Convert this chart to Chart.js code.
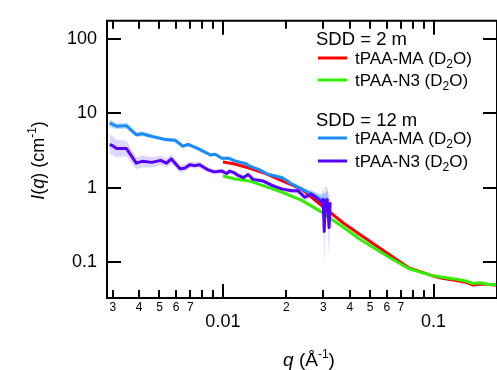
<!DOCTYPE html>
<html><head><meta charset="utf-8">
<style>html,body{margin:0;padding:0;background:#fff;}#wrap{width:497px;height:370px;position:relative;}</style>
<script src="https://cdn.jsdelivr.net/npm/chart.js@4.4.1/dist/chart.umd.min.js"></script>
</head><body><div id="wrap"><canvas id="c" width="497" height="370"></canvas></div>
<script>
// ---- data ----
const qMA12 = [0.0029, 0.00297, 0.00313, 0.00348, 0.00388, 0.00413, 0.00460, 0.00534, 0.00593, 0.00646, 0.00682, 0.00758, 0.00871, 0.00918, 0.00989, 0.01066, 0.01124, 0.01161, 0.01291, 0.01333, 0.01483, 0.01648, 0.01913, 0.02128, 0.02366, 0.02633, 0.02808, 0.02930, 0.03027, 0.03090, 0.03160];
const iMA12 = [7.4, 7.21, 6.73, 6.86, 5.17, 5.33, 4.92, 4.45, 4.36, 3.63, 3.83, 3.39, 2.77, 2.83, 2.50, 2.50, 2.34, 2.27, 2.11, 1.97, 1.76, 1.51, 1.37, 1.12, 0.962, 0.826, 0.748, 0.684, 0.62, 0.684, 0.72];
const errMA12 = [1.12, 1.12, 1.1, 1.1, 1.08, 1.08, 1.07, 1.06, 1.06, 1.06, 1.06, 1.05, 1.05, 1.05, 1.05, 1.05, 1.05, 1.05, 1.05, 1.05, 1.05, 1.05, 1.06, 1.06, 1.07, 1.1, 1.15, 1.2, 1.35, 1.3, 1.3];

const qN312 = [0.0029, 0.00297, 0.00313, 0.00348, 0.00388, 0.00413, 0.00460, 0.00506, 0.00540, 0.00569, 0.00626, 0.00661, 0.00697, 0.00735, 0.00775, 0.00844, 0.00908, 0.00989, 0.01043, 0.01076, 0.01135, 0.01161, 0.01249, 0.01318, 0.01390, 0.01547, 0.01720, 0.01913, 0.02128, 0.02270, 0.02445, 0.02633, 0.02808, 0.02930, 0.02990, 0.03027, 0.03060, 0.03125, 0.03192, 0.03230];
const iN312 = [3.8, 3.74, 3.39, 3.39, 2.15, 2.27, 2.20, 2.34, 2.15, 2.45, 1.80, 1.85, 2.05, 1.99, 2.05, 1.76, 1.64, 1.68, 1.56, 1.68, 1.59, 1.51, 1.37, 1.51, 1.30, 1.24, 1.07, 0.962, 0.917, 0.917, 0.748, 0.826, 0.711, 0.643, 0.70, 0.26, 0.684, 0.684, 0.293, 0.643];
const errN312 = [1.4, 1.35, 1.3, 1.28, 1.2, 1.2, 1.18, 1.15, 1.15, 1.15, 1.12, 1.12, 1.1, 1.1, 1.1, 1.08, 1.08, 1.08, 1.07, 1.07, 1.07, 1.07, 1.07, 1.07, 1.07, 1.07, 1.07, 1.07, 1.08, 1.1, 1.1, 1.12, 1.15, 1.2, 1.5, 3, 1.5, 1.5, 2.5, 1.5];

const qMA2 = [0.0100, 0.01124, 0.01333, 0.01597, 0.01913, 0.02366, 0.0293, 0.03256, 0.03743, 0.04485, 0.06175, 0.07645, 0.0976, 0.110, 0.130, 0.142, 0.154, 0.166, 0.179, 0.2];
const iMA2 = [2.22, 2.11, 1.85, 1.55, 1.24, 0.962, 0.582, 0.46, 0.334, 0.235, 0.126, 0.084, 0.0665, 0.061, 0.0565, 0.054, 0.0493, 0.051, 0.0505, 0.049];

const qN32 = [0.0100, 0.01124, 0.01333, 0.01597, 0.01913, 0.02366, 0.0293, 0.03256, 0.03743, 0.04485, 0.06175, 0.07645, 0.0976, 0.110, 0.130, 0.142, 0.154, 0.166, 0.179, 0.2];
const iN32 = [1.44, 1.33, 1.24, 1.04, 0.871, 0.678, 0.476, 0.385, 0.293, 0.202, 0.116, 0.0817, 0.0667, 0.063, 0.0586, 0.056, 0.0519, 0.053, 0.0508, 0.05];

const xTickValues = [0.003, 0.004, 0.005, 0.006, 0.007, 0.008, 0.009, 0.01, 0.02, 0.03, 0.04, 0.05, 0.06, 0.07, 0.08, 0.09, 0.1];
const xTickLabels = ['3', '4', '5', '6', '7', '', '', '0.01', '2', '3', '4', '5', '6', '7', '', '', '0.1'];
const xMajorValues = [0.01, 0.1];
const yTickValues = [0.1, 1, 10, 100];
const yTickLabels = ['0.1', '1', '10', '100'];

const legendHeaders = ['SDD = 2 m', 'SDD = 12 m'];
const seriesNames = ['tPAA-MA (D\u2082O)', 'tPAA-N3 (D\u2082O)'];

const COL_RED = '#ff0000', COL_GREEN = '#33ee00', COL_BLUE = '#1a8cff', COL_PURPLE = '#5500ff';
const FONT = "'Liberation Sans', Arial, Helvetica, sans-serif";

// ---- build datasets ----
const pts = (q, v) => q.map((x, i) => ({x, y: v[i]}));
const up = (q, v, e) => q.map((x, i) => ({x, y: v[i] * e[i]}));
const lo = (q, v, e) => q.map((x, i) => ({x, y: v[i] / e[i]}));
const lineDs = (label, data, color, order) => ({label, data, borderColor: color, backgroundColor: color, borderWidth: 3, pointRadius: 0, showLine: true, fill: false, order, tension: 0});
const bandDs = (data, color, fill, order) => ({label: '', data, borderWidth: 0, borderColor: 'rgba(0,0,0,0)', backgroundColor: color, pointRadius: 0, showLine: true, fill, order});

const datasets = [
  bandDs(up(qMA12, iMA12, errMA12), 'rgba(30,140,255,0.28)', '+1', 10),
  bandDs(lo(qMA12, iMA12, errMA12), 'rgba(30,140,255,0.28)', false, 11),
  bandDs(up(qN312, iN312, errN312), 'rgba(110,70,255,0.22)', '+1', 8),
  bandDs(lo(qN312, iN312, errN312), 'rgba(110,70,255,0.22)', false, 9),
  lineDs(seriesNames[0] + ' 2 m', pts(qMA2, iMA2), COL_RED, 4),
  lineDs(seriesNames[1] + ' 2 m', pts(qN32, iN32), COL_GREEN, 3),
  lineDs(seriesNames[0] + ' 12 m', pts(qMA12, iMA12), COL_BLUE, 2),
  lineDs(seriesNames[1] + ' 12 m', pts(qN312, iN312), COL_PURPLE, 1)
];

function drawRich(ctx, parts, x, y) {
  for (const p of parts) {
    ctx.font = (p.italic ? 'italic ' : '') + p.size + 'px ' + FONT;
    ctx.fillText(p.t, x, y + (p.dy || 0));
    x += ctx.measureText(p.t).width;
  }
  return x;
}
function richWidth(ctx, parts) {
  let w = 0;
  for (const p of parts) { ctx.font = (p.italic ? 'italic ' : '') + p.size + 'px ' + FONT; w += ctx.measureText(p.t).width; }
  return w;
}
function nameParts(name, size) {
  const k = name.indexOf('\u2082');
  return [{t: name.slice(0, k), size}, {t: '2', size: Math.round(size * 0.68), dy: 4}, {t: name.slice(k + 1), size}];
}

const axesPlugin = {
  id: 'axesPlugin',
  afterDatasetsDraw(chart) {
    const {ctx, chartArea: a, scales: {x, y}} = chart;
    ctx.save();
    ctx.strokeStyle = '#000';
    ctx.lineWidth = 2;
    ctx.beginPath();
    ctx.moveTo(a.left, a.top - 1); ctx.lineTo(a.left, a.bottom + 1);
    ctx.moveTo(a.left - 1, a.top); ctx.lineTo(a.right + 1, a.top);
    ctx.moveTo(a.left - 1, a.bottom); ctx.lineTo(a.right + 1, a.bottom);
    ctx.moveTo(a.right, a.top); ctx.lineTo(a.right, a.bottom);
    xTickValues.forEach(v => {
      const px = Math.round(x.getPixelForValue(v));
      const len = xMajorValues.includes(v) ? 14 : 8;
      ctx.moveTo(px, a.bottom); ctx.lineTo(px, a.bottom - len);
      ctx.moveTo(px, a.top); ctx.lineTo(px, a.top + len);
    });
    yTickValues.forEach(v => {
      const py = Math.round(y.getPixelForValue(v));
      ctx.moveTo(a.left, py); ctx.lineTo(a.left + 14, py);
      ctx.moveTo(a.right, py); ctx.lineTo(a.right - 14, py);
    });
    ctx.stroke();

    // axis titles
    ctx.fillStyle = '#000';
    ctx.textBaseline = 'alphabetic';
    ctx.textAlign = 'left';
    const yt = [{t: 'I', size: 18, italic: true}, {t: '(', size: 18}, {t: 'q', size: 18, italic: true}, {t: ') (cm', size: 18}, {t: '-1', size: 12, dy: -8}, {t: ')', size: 18}];
    ctx.save();
    ctx.translate(44, 160.5);
    ctx.rotate(-Math.PI / 2);
    drawRich(ctx, yt, -richWidth(ctx, yt) / 2, 0);
    ctx.restore();
    const xt = [{t: 'q', size: 19, italic: true}, {t: ' (\u00c5', size: 19}, {t: '-1', size: 12, dy: -8}, {t: ')', size: 19}];
    drawRich(ctx, xt, 309 - richWidth(ctx, xt) / 2, 366);

    // legend
    const rows = [
      {type: 'h', text: legendHeaders[0], y: 38},
      {type: 's', ds: 4, y: 58},
      {type: 's', ds: 5, y: 80},
      {type: 'h', text: legendHeaders[1], y: 119},
      {type: 's', ds: 6, y: 138},
      {type: 's', ds: 7, y: 161}
    ];
    rows.forEach(r => {
      if (r.type === 'h') {
        drawRich(ctx, [{t: r.text, size: 18.5}], 316, r.y + 6.5);
      } else {
        const d = chart.data.datasets[r.ds];
        ctx.strokeStyle = d.borderColor; ctx.lineWidth = 3;
        ctx.beginPath(); ctx.moveTo(318, r.y); ctx.lineTo(347, r.y); ctx.stroke();
        const name = d.label.replace(/ (2|12) m$/, '');
        drawRich(ctx, nameParts(name, 17), 355, r.y + 5.5);
      }
    });
    ctx.restore();
  }
};

new Chart(document.getElementById('c'), {
  type: 'scatter',
  data: {datasets},
  plugins: [axesPlugin],
  options: {
    responsive: false,
    animation: false,
    devicePixelRatio: 1,
    layout: {padding: {left: 0, top: 14, right: -10, bottom: 0}},
    plugins: {legend: {display: false}, tooltip: {enabled: false}, filler: {drawTime: 'beforeDatasetsDraw'}},
    elements: {line: {borderCapStyle: 'butt', borderJoinStyle: 'round'}},
    scales: {
      x: {
        type: 'logarithmic', position: 'bottom', min: 0.002818, max: 0.2,
        grid: {display: false, drawTicks: false}, border: {display: false},
        afterBuildTicks: s => { s.ticks = xTickValues.map(v => ({value: v})); },
        afterFit: s => { s.height = 72; },
        ticks: {
          autoSkip: false, maxRotation: 0, minRotation: 0, padding: 2, color: '#000',
          callback: (v, i) => xTickLabels[i],
          font: c => (c.tick && xMajorValues.includes(c.tick.value)) ? {family: FONT, size: 18, lineHeight: 2.42} : {family: FONT, size: 12, lineHeight: 1.2}
        }
      },
      y: {
        type: 'logarithmic', position: 'left', min: 0.0331, max: 175.8,
        grid: {display: false, drawTicks: false}, border: {display: false},
        afterBuildTicks: s => { s.ticks = yTickValues.map(v => ({value: v})); },
        afterFit: s => { s.width = 107; },
        ticks: {autoSkip: false, padding: 10, color: '#000', font: {family: FONT, size: 18},
          callback: (v, i) => yTickLabels[i]}
      }
    }
  }
});
</script>
</body></html>
